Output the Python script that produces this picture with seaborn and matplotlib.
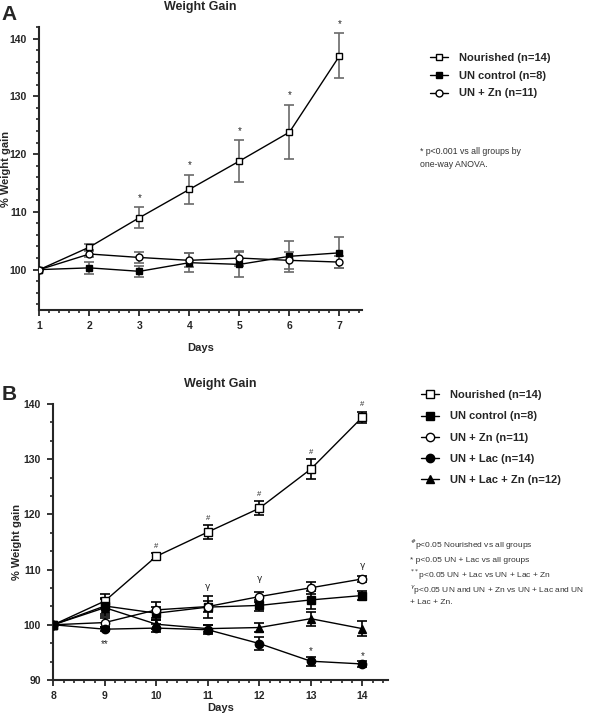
import numpy as np
import matplotlib
matplotlib.use("Agg")
import matplotlib.pyplot as plt
import seaborn as sns
from matplotlib.ticker import MultipleLocator, AutoMinorLocator
from matplotlib.lines import Line2D

sns.set_style("ticks")
plt.rcParams['font.family'] = ['Liberation Sans', 'DejaVu Sans']

# --- panel A data (days 1-7) ---
days_a = [1, 2, 3, 4, 5, 6, 7]
nour_a = [100, 103.9, 109.0, 113.9, 118.8, 123.8, 137.0]
nour_a_sem = [0, 0.5, 1.8, 2.5, 3.6, 4.7, 3.9]
unc_a = [100, 100.3, 99.7, 101.2, 100.9, 102.3, 102.9]
unc_a_sem = [0, 1.0, 0.9, 1.6, 2.2, 2.7, 2.7]
unzn_a = [100, 102.7, 102.1, 101.6, 102.0, 101.6, 101.3]
unzn_a_sem = [0, 0.5, 1.0, 1.2, 1.3, 1.5, 1.0]
labels_a = ["Nourished (n=14)", "UN control (n=8)", "UN + Zn (n=11)"]

# --- panel B data (days 8-14) ---
days_b = [8, 9, 10, 11, 12, 13, 14]
nour_b = [100, 104.3, 112.4, 116.8, 121.1, 128.2, 137.6]
nour_b_sem = [0, 1.2, 0.6, 1.2, 1.3, 1.8, 1.0]
unc_b = [100, 103.4, 102.1, 103.2, 103.5, 104.5, 105.3]
unc_b_sem = [0, 1.5, 1.2, 2.0, 1.0, 1.7, 0.8]
unzn_b = [100, 100.4, 102.7, 103.3, 105.1, 106.7, 108.3]
unzn_b_sem = [0, 0.8, 1.5, 1.0, 0.9, 1.1, 0.6]
unlac_b = [100, 99.2, 99.4, 99.1, 96.6, 93.4, 92.9]
unlac_b_sem = [0, 0.4, 0.7, 0.8, 1.1, 0.8, 0.5]
unlaczn_b = [100, 103.1, 100.1, 99.3, 99.5, 101.1, 99.3]
unlaczn_b_sem = [0, 1.5, 0.8, 0.7, 0.9, 1.3, 1.4]
labels_b = ["Nourished (n=14)", "UN control (n=8)", "UN + Zn (n=11)",
            "UN + Lac (n=14)", "UN + Lac + Zn (n=12)"]

# marker styles: (marker, face colour)
styles = [("s", "white"), ("s", "black"), ("o", "white"), ("o", "black"), ("^", "black")]

fig = plt.figure(figsize=(6, 7.15), dpi=100)
ax_a = fig.add_axes([0.0658, 0.5664, 0.5375, 0.3958])
ax_b = fig.add_axes([0.0889, 0.0490, 0.5578, 0.3860])


def draw(ax, days, series, sems, ecolor, ms):
    handles = []
    for (vals, sem), (mk, fc) in zip(zip(series, sems), styles):
        ax.errorbar(days, vals, yerr=sem, fmt="none", ecolor=ecolor,
                    elinewidth=1.2, capsize=3.5, capthick=1.2, zorder=2)
        sns.lineplot(x=days, y=vals, ax=ax, color="black", linewidth=1,
                     marker=mk, markersize=ms, markerfacecolor=fc,
                     markeredgecolor="black", markeredgewidth=1, zorder=3)
        handles.append(Line2D([], [], color="black", linewidth=1, marker=mk,
                              markersize=ms, markerfacecolor=fc,
                              markeredgecolor="black"))
    return handles


def style_axis(ax, ylim, xlim, ystep, yminor):
    sns.despine(ax=ax)
    ax.set_ylim(*ylim)
    ax.set_xlim(*xlim)
    ax.yaxis.set_major_locator(MultipleLocator(ystep))
    ax.yaxis.set_minor_locator(AutoMinorLocator(yminor))
    ax.xaxis.set_major_locator(MultipleLocator(1))
    ax.xaxis.set_minor_locator(AutoMinorLocator(5))
    for sp in ("left", "bottom"):
        ax.spines[sp].set_linewidth(1.5)
    ax.tick_params(which="major", length=4, width=1.3, labelsize=7.5, pad=5)
    ax.tick_params(axis="x", which="major", pad=4)
    ax.tick_params(which="minor", length=2.5, width=1.2)
    for t in ax.get_xticklabels() + ax.get_yticklabels():
        t.set_fontweight("bold")
    ax.set_xlabel("Days", fontsize=8, fontweight="bold")
    ax.set_ylabel("% Weight gain", fontsize=8, fontweight="bold")


# ---- panel A ----
h_a = draw(ax_a, days_a, [nour_a, unc_a, unzn_a],
           [nour_a_sem, unc_a_sem, unzn_a_sem], "#6a6a6a", 5)
style_axis(ax_a, (93, 142), (1, 7.45), 10, 5)
ax_a.xaxis.set_label_coords(0.5, -0.115)
ax_a.yaxis.set_label_coords(-0.088, 0.5)
ax_a.set_title("Weight Gain", fontsize=9, fontweight="bold", pad=12)
for d, v, s in zip(days_a[2:], nour_a[2:], nour_a_sem[2:]):
    ax_a.text(d, v + s + 0.8, "*", ha="center", va="bottom", fontsize=7)

# ---- panel B ----
h_b = draw(ax_b, days_b, [nour_b, unc_b, unzn_b, unlac_b, unlaczn_b],
           [nour_b_sem, unc_b_sem, unzn_b_sem, unlac_b_sem, unlaczn_b_sem],
           "black", 6)
style_axis(ax_b, (90, 140), (8, 14.5), 10, 3)
ax_b.xaxis.set_label_coords(0.5, -0.085)
ax_b.yaxis.set_label_coords(-0.094, 0.5)
ax_b.set_title("Weight Gain", fontsize=9, fontweight="bold", pad=12)
for d, v, s in zip(days_b[2:], nour_b[2:], nour_b_sem[2:]):
    ax_b.text(d, v + s + 0.6, "#", ha="center", va="bottom", fontsize=5.5)
for d, v, s in zip(days_b[5:], unlac_b[5:], unlac_b_sem[5:]):
    ax_b.text(d, v + s + 0.1, "*", ha="center", va="bottom", fontsize=7)
for d, yv in [(11, 106.2), (12, 107.6), (14, 110.0)]:
    ax_b.text(d, yv, "γ", ha="center", va="bottom", fontsize=6.5, family="DejaVu Sans")
ax_b.text(9, 96.5, "**", ha="center", va="center", fontsize=7)

# ---- legends ----
fig.legend(h_a, labels_a, loc="upper left", bbox_to_anchor=(0.7, 0.94),
           frameon=False, prop={"size": 8, "weight": "bold"},
           handlelength=1.6, handletextpad=1.0, labelspacing=0.7)
fig.legend(h_b, labels_b, loc="upper left", bbox_to_anchor=(0.685, 0.468),
           frameon=False, prop={"size": 8, "weight": "bold"},
           handlelength=1.6, handletextpad=1.0, labelspacing=1.0)

# ---- footnotes ----
fig.text(0.70, 1 - 158 / 715, "* p<0.001 vs all groups by\none-way ANOVA.",
         fontsize=6.3, color="#333333", va="center", linespacing=1.6)
notes_b = ["$^{\\#}$p<0.05 Nourished vs all groups",
           "* p<0.05 UN + Lac vs all groups",
           "$^{**}$p<0.05 UN + Lac vs UN + Lac + Zn",
           "$^{\\gamma}$p<0.05 UN and UN + Zn vs UN + Lac and UN",
           "+ Lac + Zn."]
for txt, ypix in zip(notes_b, [545, 560, 575, 590, 602]):
    fig.text(0.683, 1 - ypix / 715, txt, fontsize=6, color="#333333", va="center")

# panel letters
fig.text(0.003, 1 - 14 / 715, "A", fontsize=15, fontweight="bold", va="center")
fig.text(0.003, 1 - 395 / 715, "B", fontsize=15, fontweight="bold", va="center")

fig.savefig("out.png", dpi=100)
